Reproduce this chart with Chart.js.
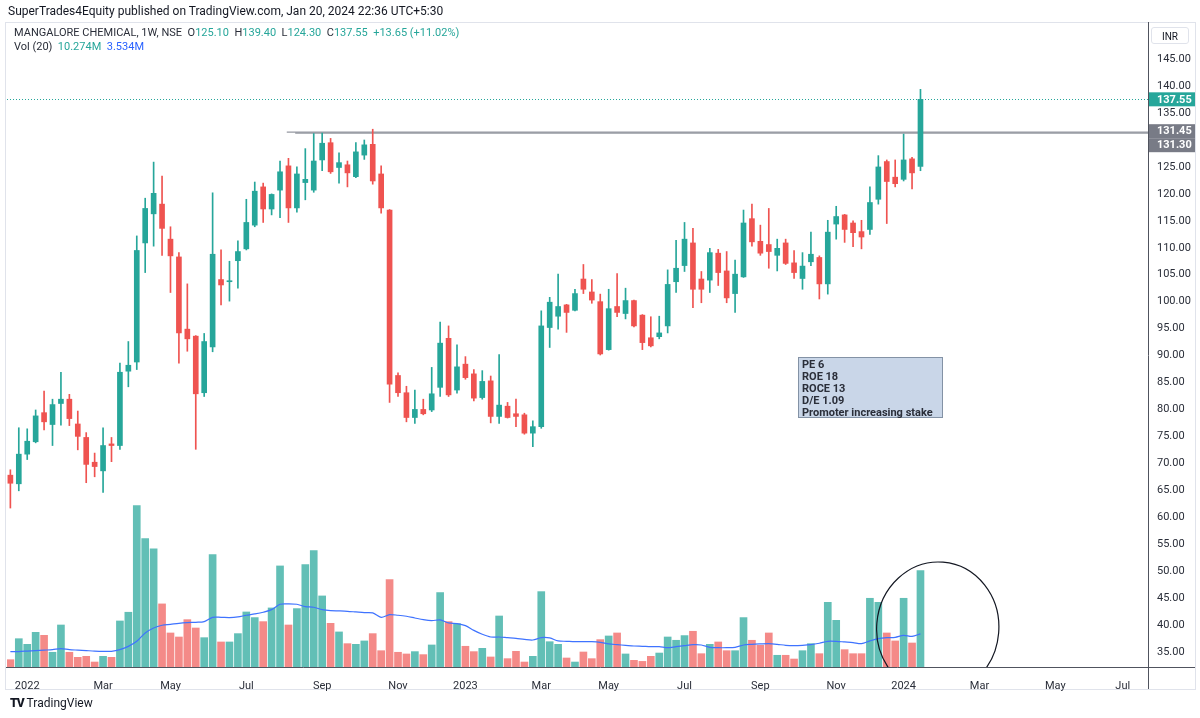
<!DOCTYPE html>
<html>
<head>
<meta charset="utf-8">
<script src="https://cdn.jsdelivr.net/npm/chart.js@4.4.1/dist/chart.umd.min.js"></script>
<style>
  body { margin: 0; background: #fff; font-family: Roboto, "Noto Sans", sans-serif; color: #131722; }
  #wrap { position: relative; width: 1200px; height: 718px; overflow: hidden; }
  #frame { position: absolute; left: 5px; top: 22px; width: 1191px; height: 668px; border: 1px solid #e0e3eb; box-sizing: border-box; }
  canvas { position: absolute; left: 0; top: 0; }
  .txt { position: absolute; white-space: nowrap; pointer-events: none; }
  #pub { left: 8px; top: 4px; font-size: 12px; }
  #leg1 { left: 14px; top: 26px; font-size: 11px; color: #2a2e39; }
  #leg2 { left: 14px; top: 40px; font-size: 11px; color: #2a2e39; }
  .g { color: #26a69a; }
  .b { color: #2962ff; }
  #inr { left: 1151px; top: 27px; width: 38px; height: 17px; border: 1px solid #e0e3eb; border-radius: 3px; font-size: 10px; text-align: center; line-height: 17px; box-sizing: border-box; }
  #note { left: 798px; top: 357px; width: 145px; height: 61px; background: #c9d6e8; border: 1px solid #8392a5; box-sizing: border-box; font-size: 11px; font-weight: bold; line-height: 12px; padding: 1px 3px; color: #2a2e39; white-space: normal; }
  #logo { left: 10px; top: 696px; font-size: 12px; color: #131722; }
  #logo b { font-weight: 900; letter-spacing: -1px; margin-right: 3px; }
</style>
</head>
<body>
<div id="wrap">
  <div id="frame"></div>
  <canvas id="chart" width="1200" height="718"></canvas>
  <div class="txt" id="pub">SuperTrades4Equity published on TradingView.com, Jan 20, 2024 22:36 UTC+5:30</div>
  <div class="txt" id="leg1">MANGALORE CHEMICAL, 1W, NSE&nbsp;&nbsp;O<span class="g">125.10</span>&nbsp;&nbsp;H<span class="g">139.40</span>&nbsp;&nbsp;L<span class="g">124.30</span>&nbsp;&nbsp;C<span class="g">137.55</span>&nbsp;&nbsp;<span class="g">+13.65 (+11.02%)</span></div>
  <div class="txt" id="leg2">Vol (20)&nbsp;&nbsp;<span class="g">10.274M</span>&nbsp;&nbsp;<span class="b">3.534M</span></div>
  <div class="txt" id="inr">INR</div>
  <div class="txt" id="note">PE 6<br>ROE 18<br>ROCE 13<br>D/E 1.09<br>Promoter increasing stake</div>
  <div class="txt" id="logo"><b>TV</b>TradingView</div>
</div>
<script>
// weekly candles, first bar = week of 20 Dec 2021
const opens = [67.8, 66.2, 71.7, 74.0, 79.4, 77.2, 81.1, 81.9, 77.3, 74.8,
  70.2, 68.6, 73.6, 73.3, 87.1, 88.8, 110.9, 116.3, 118.1, 111.6,
  108.3, 94.9, 93.6, 83.1, 91.6, 104.1, 103.7, 107.6, 109.8, 114.2,
  121.3, 117.2, 120.7, 125.2, 117.4, 122.1, 120.7, 126.3, 129.5, 124.9,
  125.4, 123.2, 127.2, 129.2, 123.7, 117.0, 86.3, 83.1, 78.5, 80.0,
  79.9, 84.1, 93.2, 83.6, 88.4, 86.6, 82.2, 85.3, 78.7, 80.6,
  79.2, 79.0, 75.6, 76.8, 95.2, 97.3, 99.4, 98.4, 104.2, 101.8,
  100.0, 91.1, 99.1, 97.8, 100.2, 97.5, 93.3, 93.5, 95.5, 103.7,
  106.7, 110.9, 104.2, 104.0, 109.0, 105.7, 101.5, 104.6, 115.4, 111.2,
  110.6, 108.6, 110.9, 107.2, 104.3, 107.4, 108.2, 103.3, 114.4, 116.1,
  114.6, 113.0, 113.4, 119.0, 126.0, 123.1, 122.7, 126.5, 125.1];
const highs = [68.8, 76.6, 76.4, 79.9, 83.4, 81.9, 86.9, 82.8, 79.7, 75.7,
  71.9, 76.6, 74.8, 88.6, 92.6, 112.2, 119.2, 125.9, 123.3, 113.9,
  109.1, 103.3, 93.7, 94.1, 120.2, 109.6, 107.5, 111.3, 119.0, 122.2,
  122.0, 120.0, 126.1, 126.6, 125.0, 128.4, 131.2, 131.3, 130.3, 127.6,
  126.1, 129.5, 130.0, 132.0, 125.2, 117.1, 86.8, 84.3, 83.6, 81.9,
  87.8, 96.2, 95.5, 92.0, 89.8, 87.4, 87.2, 86.2, 90.2, 81.3,
  81.9, 79.3, 77.9, 98.3, 100.8, 105.1, 99.5, 102.3, 106.9, 104.1,
  101.4, 102.3, 105.2, 102.5, 100.3, 97.6, 97.2, 97.3, 105.9, 111.4,
  114.7, 113.6, 105.6, 109.9, 109.7, 109.3, 107.7, 117.0, 118.1, 114.2,
  117.3, 111.6, 111.6, 109.5, 109.1, 112.9, 108.5, 115.1, 117.7, 116.2,
  115.0, 115.1, 121.3, 127.1, 126.3, 126.3, 131.1, 126.8, 139.4];
const lows = [61.7, 64.9, 70.7, 73.8, 76.2, 73.3, 77.1, 77.0, 72.5, 66.4,
  67.5, 64.6, 70.3, 72.6, 84.2, 87.4, 105.4, 110.3, 108.6, 101.7,
  88.6, 90.8, 72.6, 82.4, 90.7, 99.4, 100.1, 102.5, 109.6, 113.9,
  114.7, 116.1, 115.6, 114.7, 116.6, 118.9, 120.3, 124.3, 123.8, 122.0,
  121.3, 123.0, 126.4, 121.8, 116.4, 81.3, 82.4, 77.7, 77.4, 79.0,
  79.6, 82.4, 82.4, 83.0, 85.6, 81.6, 81.9, 77.5, 77.4, 78.4,
  76.8, 75.4, 73.1, 76.5, 91.5, 94.9, 94.3, 98.3, 101.5, 99.7,
  90.1, 91.0, 97.2, 96.8, 95.3, 91.1, 91.6, 93.1, 94.2, 101.7,
  105.6, 98.9, 99.8, 101.7, 103.0, 99.8, 98.0, 104.5, 110.3, 108.6,
  106.2, 105.7, 106.9, 104.3, 102.3, 106.7, 100.5, 101.4, 111.6, 111.0,
  110.2, 109.8, 112.5, 118.1, 114.5, 121.3, 122.4, 120.9, 124.3];
const closes = [66.3, 71.7, 74.1, 78.8, 77.7, 80.9, 81.9, 78.3, 75.0, 69.8,
  69.4, 73.3, 73.3, 86.9, 88.2, 109.5, 117.3, 120.1, 113.6, 108.5,
  94.2, 93.1, 82.9, 92.6, 108.8, 103.1, 103.8, 109.3, 114.7, 120.5,
  117.2, 119.9, 124.1, 117.4, 123.7, 122.7, 126.1, 129.4, 124.1, 125.8,
  123.9, 127.8, 129.1, 122.4, 117.4, 84.7, 83.1, 78.5, 80.0, 79.2,
  82.9, 92.3, 82.7, 87.9, 85.9, 82.1, 85.2, 78.7, 80.8, 78.5,
  78.7, 75.6, 76.8, 95.5, 99.9, 99.1, 98.0, 101.5, 102.3, 100.3,
  90.3, 98.7, 98.0, 100.2, 95.5, 92.4, 91.8, 94.2, 103.2, 106.2,
  111.6, 102.3, 102.3, 109.1, 105.4, 100.7, 105.1, 114.6, 111.1, 109.0,
  109.3, 109.9, 107.1, 105.4, 106.6, 108.8, 103.3, 112.9, 115.8, 113.4,
  112.8, 112.0, 118.4, 125.0, 122.3, 121.9, 126.3, 123.9, 137.55];
const volumes = [0.78, 3.02, 2.42, 3.70, 3.38, 1.57, 4.48, 1.57, 1.03, 1.14,
  0.53, 1.14, 1.03, 4.91, 5.84, 17.22, 13.70, 12.60, 6.73, 3.63,
  3.20, 5.05, 4.16, 3.13, 11.99, 2.67, 2.67, 3.56, 5.87, 5.27,
  4.84, 6.30, 10.78, 4.48, 6.23, 10.93, 12.42, 7.58, 4.66, 3.74,
  2.49, 2.42, 2.78, 3.56, 1.74, 9.32, 1.57, 1.39, 1.64, 1.32,
  2.35, 7.94, 4.84, 4.63, 2.21, 1.64, 1.99, 1.07, 5.44, 0.89,
  1.67, 0.53, 1.14, 8.04, 2.70, 2.42, 0.96, 0.53, 1.60, 0.89,
  2.92, 3.31, 3.63, 1.39, 0.71, 0.60, 1.14, 1.49, 3.20, 2.85,
  3.35, 3.81, 1.42, 2.42, 2.67, 1.74, 1.74, 5.27, 2.85, 2.31,
  3.63, 1.25, 1.25, 0.85, 1.74, 2.49, 1.42, 6.90, 4.98, 1.85,
  1.42, 1.42, 7.33, 6.90, 3.63, 2.78, 7.33, 2.56, 10.274];
const volMA = [1.64, 1.65, 1.70, 1.75, 1.80, 1.85, 1.96, 1.85, 1.80, 1.75,
  1.70, 1.67, 1.67, 1.85, 2.20, 2.74, 3.63, 4.16, 4.45, 4.55,
  4.66, 4.73, 4.77, 4.84, 5.30, 5.30, 5.27, 5.34, 5.52, 5.66,
  5.84, 6.12, 6.69, 6.73, 6.69, 6.44, 6.37, 6.12, 6.01, 5.98,
  5.94, 5.87, 5.80, 5.77, 5.30, 5.59, 5.52, 5.41, 5.23, 5.05,
  4.95, 5.02, 4.70, 4.63, 4.41, 3.91, 3.49, 3.20, 3.20, 3.13,
  3.06, 2.95, 2.88, 3.13, 3.10, 2.78, 2.74, 2.70, 2.70, 2.70,
  2.63, 2.46, 2.38, 2.31, 2.24, 2.21, 2.17, 2.17, 2.06, 2.17,
  2.28, 2.38, 2.35, 2.10, 2.06, 2.06, 2.10, 2.35, 2.42, 2.46,
  2.49, 2.42, 2.31, 2.28, 2.31, 2.38, 2.53, 2.74, 2.74, 2.67,
  2.60, 2.49, 2.78, 3.02, 3.13, 3.17, 3.38, 3.27, 3.534];
const priceTicks = [145, 140, 135, 125, 120, 115, 110, 105, 100, 95, 90, 85, 80, 75, 70, 65, 60, 55, 50, 45, 40, 35];
const lastPrice = 137.55;
const levels = [131.45, 131.30];

const firstWeek = Date.UTC(2021, 11, 20);
const weeksShown = 136;
const monthNames = ['Jan', 'Feb', 'Mar', 'Apr', 'May', 'Jun', 'Jul', 'Aug', 'Sep', 'Oct', 'Nov', 'Dec'];

// a label on the first week of every second month
const monthTicks = {};
let prevMonth = null;
for (let i = 0; i < weeksShown; i++) {
    const d = new Date(firstWeek + i * 7 * 86400000);
    const m = d.getUTCMonth();
    if (prevMonth !== null && m !== prevMonth && m % 2 === 0) {
        monthTicks[i] = m === 0 ? String(d.getUTCFullYear()) : monthNames[m];
    }
    prevMonth = m;
}

const green = '#26a69a';
const red = '#ef5350';
const up = closes.map((c, i) => c >= opens[i]);
const candleColors = up.map(u => u ? green : red);
const volColors = up.map(u => u ? 'rgba(38,166,154,0.72)' : 'rgba(239,83,80,0.68)');

const overlay = {
    id: 'overlay',
    beforeDatasetsDraw(chart) {
        const { ctx, chartArea: a, scales: { x, y } } = chart;
        ctx.save();
        ctx.strokeStyle = green;
        ctx.lineWidth = 1;
        ctx.setLineDash([1, 2]);
        const py = Math.round(y.getPixelForValue(lastPrice)) + 0.5;
        ctx.beginPath();
        ctx.moveTo(a.left, py);
        ctx.lineTo(a.right, py);
        ctx.stroke();
        ctx.setLineDash([]);
        ctx.strokeStyle = '#9598a1';
        ctx.lineWidth = 1.3;
        const starts = [32.8, 33.8];
        levels.forEach((lv, k) => {
            const ly = y.getPixelForValue(lv);
            ctx.beginPath();
            ctx.moveTo(x.getPixelForValue(starts[k]), ly);
            ctx.lineTo(a.right, ly);
            ctx.stroke();
        });
        ctx.restore();
    },
    afterDatasetsDraw(chart) {
        // hand drawn ring round the last volume bars
        const { ctx, chartArea: a, scales: { x, yv } } = chart;
        const l = x.getPixelForValue(102.8), r = x.getPixelForValue(117.3);
        const t = yv.getPixelForValue(11.2), b = yv.getPixelForValue(-2.9);
        ctx.save();
        ctx.beginPath();
        ctx.rect(a.left, a.top, a.right - a.left, a.bottom - a.top);
        ctx.clip();
        ctx.strokeStyle = '#131722';
        ctx.lineWidth = 1.2;
        ctx.beginPath();
        ctx.ellipse((l + r) / 2, (t + b) / 2, (r - l) / 2, (b - t) / 2, 0.08, 0, Math.PI * 2);
        ctx.stroke();
        ctx.restore();
    },
    afterDraw(chart) {
        const { ctx, chartArea: a, scales: { y } } = chart;
        ctx.save();
        ctx.strokeStyle = '#50535e';
        ctx.lineWidth = 1;
        ctx.beginPath();
        ctx.moveTo(6, a.bottom + 0.5);
        ctx.lineTo(1195, a.bottom + 0.5);
        ctx.moveTo(a.right + 0.5, 22);
        ctx.lineTo(a.right + 0.5, 689);
        ctx.stroke();
        const badge = (val, cy, bg) => {
            ctx.fillStyle = bg;
            ctx.fillRect(a.right + 1, cy - 7, 46, 14);
            ctx.fillStyle = '#fff';
            ctx.font = 'bold 11px Roboto';
            ctx.textBaseline = 'middle';
            ctx.textAlign = 'left';
            ctx.fillText(val.toFixed(2), a.right + 9, cy + 0.5);
        };
        badge(lastPrice, y.getPixelForValue(lastPrice), green);
        const ly = y.getPixelForValue(levels[0]) - 1;
        badge(levels[0], ly, '#787b86');
        badge(levels[1], ly + 14, '#787b86');
        ctx.restore();
    }
};

const pts = arr => arr.map((v, i) => ({ x: i, y: v }));

new Chart(document.getElementById('chart'), {
    type: 'bar',
    data: {
        datasets: [
            {
                label: 'body',
                data: opens.map((o, i) => ({ x: i, y: [o, closes[i]] })),
                backgroundColor: candleColors,
                barThickness: 5,
                minBarLength: 1,
                grouped: false,
                yAxisID: 'y',
                order: 1
            },
            {
                label: 'wick',
                data: lows.map((l, i) => ({ x: i, y: [l, highs[i]] })),
                backgroundColor: candleColors,
                barThickness: 1,
                grouped: false,
                yAxisID: 'y',
                order: 2
            },
            {
                type: 'line',
                label: 'Vol MA',
                data: pts(volMA),
                borderColor: '#3f73ff',
                borderWidth: 1.2,
                pointRadius: 0,
                tension: 0.3,
                yAxisID: 'yv',
                order: 3
            },
            {
                label: 'Vol',
                data: pts(volumes),
                backgroundColor: volColors,
                barThickness: 7,
                grouped: false,
                yAxisID: 'yv',
                order: 4
            }
        ]
    },
    options: {
        responsive: false,
        animation: false,
        devicePixelRatio: 1,
        layout: { padding: { left: 7, top: 22, right: 0, bottom: 0 } },
        plugins: { legend: { display: false }, tooltip: { enabled: false } },
        scales: {
            x: {
                type: 'linear',
                offset: false,
                min: -0.4,
                max: 135,
                grid: { display: false, offset: false },
                border: { display: false },
                afterBuildTicks: s => { s.ticks = Object.keys(monthTicks).map(k => ({ value: +k })); },
                afterFit: s => { s.height = 51; },
                ticks: {
                    autoSkip: false,
                    maxRotation: 0,
                    padding: 5,
                    color: '#2a2e39',
                    font: { family: 'Roboto', size: 11 },
                    callback: v => monthTicks[v] || ''
                }
            },
            y: {
                position: 'right',
                min: 32.2,
                max: 151.9,
                grid: { display: false, drawTicks: false },
                border: { display: false },
                afterBuildTicks: s => { s.ticks = priceTicks.map(v => ({ value: v })); },
                afterFit: s => { s.width = 52; },
                ticks: {
                    padding: 9,
                    color: '#2a2e39',
                    font: { family: 'Roboto', size: 11 },
                    callback: v => v.toFixed(2)
                }
            },
            yv: {
                display: false,
                min: 0,
                max: 68.8
            }
        }
    },
    plugins: [overlay]
});
</script>
</body>
</html>
